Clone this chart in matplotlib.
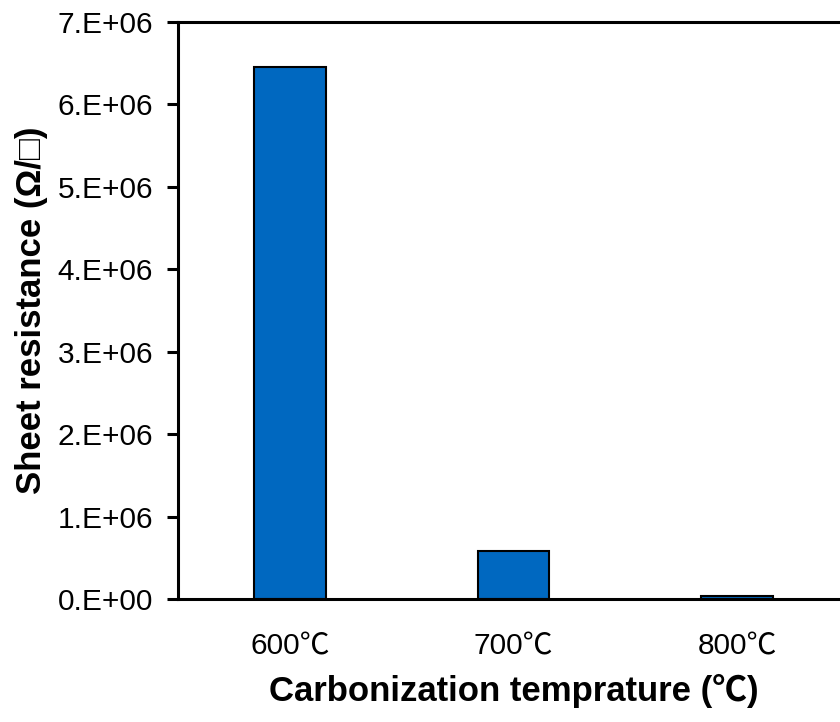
import matplotlib
matplotlib.use('Agg')
import matplotlib.pyplot as plt

plt.rcParams['font.family'] = ['Liberation Sans', 'Noto Sans CJK KR', 'DejaVu Sans']

# Sheet resistance vs carbonization temperature
temps = ['600℃', '700℃', '800℃']
resistance = [6.45e6, 5.87e5, 4.0e4]
yticks = [0, 1e6, 2e6, 3e6, 4e6, 5e6, 6e6, 7e6]
ytick_labels = ['0.E+00', '1.E+06', '2.E+06', '3.E+06', '4.E+06', '5.E+06', '6.E+06', '7.E+06']

fig = plt.figure(figsize=(8.4, 7.22), dpi=100)
# right edge of the frame runs off the figure
ax = fig.add_axes([178/840, 1 - 599/722, 671/840, 577/722])

x = range(len(temps))
ax.bar(x, resistance, width=0.32, color='#0068C0', edgecolor='black', linewidth=1.5, zorder=2)

ax.set_xlim(-0.5, 2.5)
ax.set_ylim(0, 7e6)
ax.set_yticks(yticks)
ax.set_yticklabels(ytick_labels)
ax.set_xticks(list(x))
ax.set_xticklabels(temps)

ax.tick_params(axis='y', direction='out', length=8, width=2.2, labelsize=21.5, pad=10)
ax.tick_params(axis='x', length=0, labelsize=21.5, pad=24)
for s in ax.spines.values():
    s.set_linewidth(2.2)

ax.set_ylabel('Sheet resistance (Ω/□)', fontsize=25, fontweight='bold', labelpad=7)
ax.set_xlabel('Carbonization temprature (℃)', fontsize=25, fontweight='bold', labelpad=10)

fig.savefig('out.png', dpi=100)
